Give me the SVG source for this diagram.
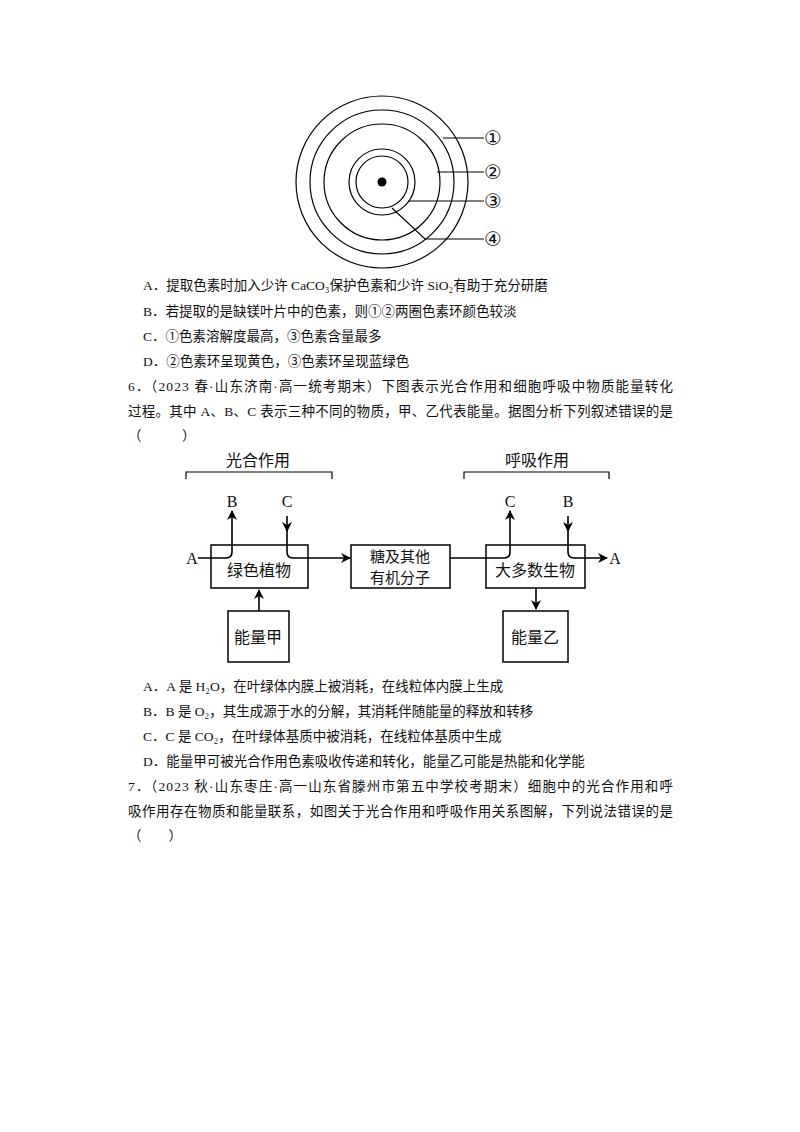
<svg xmlns="http://www.w3.org/2000/svg" width="800" height="1132" viewBox="0 0 800 1132">
<defs>
<marker id="ar" viewBox="0 0 10 10" refX="9" refY="5" markerWidth="10" markerHeight="10" markerUnits="userSpaceOnUse" orient="auto"><path d="M0,0 L10,5 L0,10 L3,5 z" fill="#000"/></marker>
</defs>
<style>
.t{font-family:"Liberation Serif","Noto Sans CJK SC",serif;font-size:13.5px;fill:#111}
.n{font-family:"Noto Sans CJK SC",sans-serif;font-size:16px;fill:#111;text-anchor:middle}
.s{font-family:"Noto Sans CJK SC",sans-serif;font-size:15px;fill:#111;text-anchor:middle}
.l{font-family:"Liberation Serif","Noto Sans CJK SC",serif;font-size:16px;fill:#111;text-anchor:middle}
.q{font-family:"DejaVu Sans","Noto Sans CJK SC",sans-serif;font-size:20px;fill:#111;text-anchor:middle}
.c{fill:none;stroke:#000;stroke-width:1.2}
.b{fill:#fff;stroke:#000;stroke-width:1.5}
.k{fill:none;stroke:#000;stroke-width:1.6}
</style>
<rect width="800" height="1132" fill="#fff"/>
<g id="rings">
<circle class="c" cx="382" cy="182" r="86"/>
<circle class="c" cx="382" cy="182" r="72"/>
<circle class="c" cx="382" cy="182" r="58"/>
<circle class="c" cx="382" cy="182" r="33"/>
<circle class="c" cx="382" cy="182" r="26"/>
<circle cx="382" cy="182" r="4.5" fill="#000"/>
<path class="c" d="M443,138 H484 M437,172 H484 M408,201 H484 M392,208 L425,239 H484"/>
<text class="q" x="493" y="145">①</text>
<text class="q" x="493" y="179">②</text>
<text class="q" x="493" y="208">③</text>
<text class="q" x="493" y="246">④</text>
</g>
<g id="text1">
<text class="t" x="143" y="290">A．提取色素时加入少许 CaCO₃保护色素和少许 SiO₂有助于充分研磨</text>
<text class="t" x="143" y="316">B．若提取的是缺镁叶片中的色素，则①②两圈色素环颜色较淡</text>
<text class="t" x="143" y="341">C．①色素溶解度最高，③色素含量最多</text>
<text class="t" x="143" y="366">D．②色素环呈现黄色，③色素环呈现蓝绿色</text>
<text class="t" x="128" y="391" textLength="545">6．（2023 春·山东济南·高一统考期末）下图表示光合作用和细胞呼吸中物质能量转化</text>
<text class="t" x="128" y="416" textLength="545">过程。其中 A、B、C 表示三种不同的物质，甲、乙代表能量。据图分析下列叙述错误的是</text>
<text class="t" x="128" y="440">（　　　）</text>
</g>
<g id="brackets">
<path class="c" d="M186,479 V472 H332 V479 M464,479 V472 H609 V479"/>
<text class="n" x="258" y="466">光合作用</text>
<text class="n" x="537" y="466">呼吸作用</text>
</g>
<g id="n1"><rect class="b" x="211" y="545" width="97" height="43"/><text class="n" x="259" y="576">绿色植物</text></g>
<g id="n2"><rect class="b" x="351" y="545" width="99" height="43"/><text class="s" x="400" y="562">糖及其他</text><text class="s" x="400" y="583">有机分子</text></g>
<g id="n3"><rect class="b" x="486" y="545" width="99" height="43"/><text class="n" x="535" y="576">大多数生物</text></g>
<g id="n4"><rect class="b" x="228" y="611" width="61" height="51"/><text class="n" x="258" y="643">能量甲</text></g>
<g id="n5"><rect class="b" x="503" y="611" width="65" height="51"/><text class="n" x="535" y="643">能量乙</text></g>
<g id="connectors">
<path class="k" d="M198,558 H226 Q232,558 232,552 V511" marker-end="url(#ar)"/>
<path class="k" d="M287,516 V531" marker-end="url(#ar)"/>
<path class="k" d="M287,528 V552 Q287,558 293,558 H350" marker-end="url(#ar)"/>
<path class="k" d="M450,558 H504 Q510,558 510,552 V511" marker-end="url(#ar)"/>
<path class="k" d="M568,516 V531" marker-end="url(#ar)"/>
<path class="k" d="M568,528 V552 Q568,558 574,558 H607" marker-end="url(#ar)"/>
<path class="k" d="M259,611 V590" marker-end="url(#ar)"/>
<path class="k" d="M536,588 V609" marker-end="url(#ar)"/>
<text class="l" x="192" y="564">A</text>
<text class="l" x="232" y="507">B</text>
<text class="l" x="287" y="507">C</text>
<text class="l" x="510" y="507">C</text>
<text class="l" x="568" y="507">B</text>
<text class="l" x="615" y="564">A</text>
</g>
<g id="text2">
<text class="t" x="143" y="691">A．A 是 H₂O，在叶绿体内膜上被消耗，在线粒体内膜上生成</text>
<text class="t" x="143" y="716">B．B 是 O₂，其生成源于水的分解，其消耗伴随能量的释放和转移</text>
<text class="t" x="143" y="741">C．C 是 CO₂，在叶绿体基质中被消耗，在线粒体基质中生成</text>
<text class="t" x="143" y="766">D．能量甲可被光合作用色素吸收传递和转化，能量乙可能是热能和化学能</text>
<text class="t" x="128" y="791" textLength="545">7．（2023 秋·山东枣庄·高一山东省滕州市第五中学校考期末）细胞中的光合作用和呼</text>
<text class="t" x="128" y="816" textLength="545">吸作用存在物质和能量联系，如图关于光合作用和呼吸作用关系图解，下列说法错误的是</text>
<text class="t" x="128" y="840">（　　）</text>
</g>
</svg>
